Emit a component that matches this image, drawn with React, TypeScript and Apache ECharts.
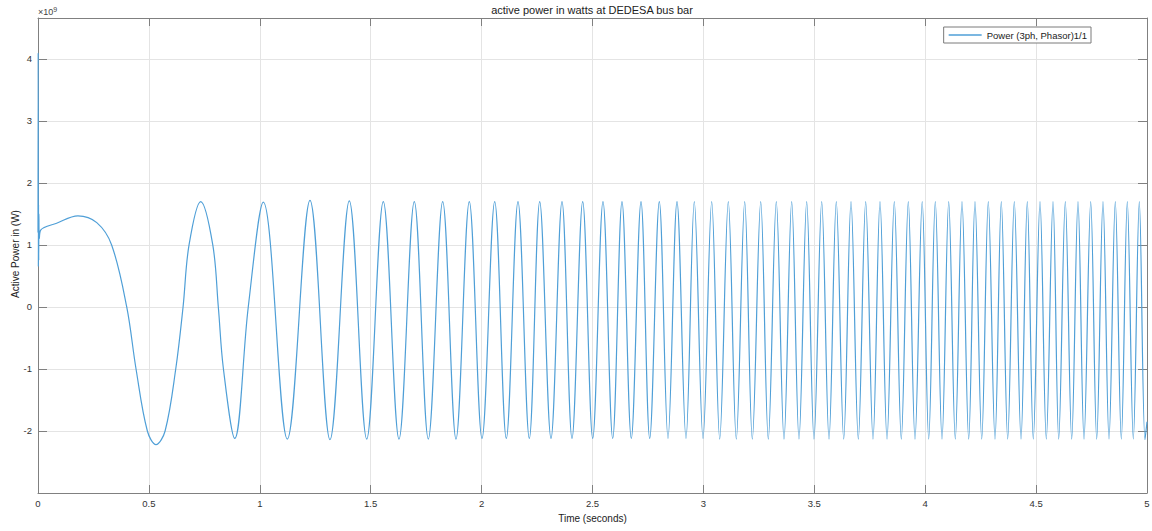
import React, { useEffect, useRef } from "react";
import * as echarts from "echarts";

// Values in units of 1e9 W, time in seconds
const earlyTimes = [0, 0.0008, 0.0016, 0.0024, 0.0032, 0.004, 0.006, 0.012, 0.084, 0.18, 0.265, 0.332, 0.4, 0.442, 0.493, 0.532, 0.573, 0.621, 0.654, 0.681, 0.7335, 0.788, 0.813, 0.836, 0.887, 0.948];
const earlyValues = [1.2, 4.1, 0.65, 1.65, 0.75, 1.5, 1.1, 1.24, 1.35, 1.47, 1.36, 1.0, 0, -1, -2, -2.22, -2, -1, 0, 1, 1.7, 1, 0, -1, -2.12, 0];

const peakTimes = [1.0158, 1.2263, 1.4035, 1.5568, 1.6966, 1.8246, 1.9445, 2.0591, 2.1641, 2.262, 2.3625, 2.4558, 2.5473, 2.633, 2.7187, 2.8012, 2.881, 2.959, 3.0374, 3.1123, 3.1862, 3.2584, 3.3287, 3.3981, 3.4657, 3.5334, 3.5992, 3.6655, 3.7317, 3.7962, 3.8607, 3.9238, 3.9865, 4.0455, 4.106, 4.1659, 4.2245, 4.2845, 4.3431, 4.4017, 4.4603, 4.5176, 4.5762, 4.6317, 4.6889, 4.7462, 4.8016, 4.8571, 4.9112, 4.9653];
const peakValues = [1.69, 1.72, 1.71, 1.7, 1.7, 1.7, 1.7, 1.7, 1.7, 1.7, 1.7, 1.7, 1.7, 1.7, 1.7, 1.7, 1.7, 1.7, 1.7, 1.7, 1.7, 1.7, 1.7, 1.7, 1.7, 1.7, 1.7, 1.7, 1.7, 1.7, 1.7, 1.7, 1.7, 1.7, 1.7, 1.7, 1.7, 1.7, 1.7, 1.7, 1.7, 1.7, 1.7, 1.7, 1.7, 1.7, 1.7, 1.7, 1.7, 1.7];

const troughTimes = [1.124, 1.3165, 1.482, 1.6276, 1.7597, 1.8846, 2.0018, 2.1114, 2.2151, 2.3129, 2.4076, 2.5009, 2.5911, 2.6749, 2.7579, 2.8404, 2.9215, 2.9982, 3.0735, 3.1483, 3.2205, 3.2926, 3.3634, 3.431, 3.4986, 3.5663, 3.6326, 3.6984, 3.7647, 3.8278, 3.8922, 3.954, 4.0158, 4.0758, 4.1357, 4.1961, 4.2548, 4.3147, 4.3719, 4.4319, 4.4874, 4.546, 4.6019, 4.6605, 4.716, 4.7732, 4.8287, 4.8842, 4.9383, 4.991];
const troughValues = [-2.13, -2.14, -2.13, -2.13, -2.13, -2.13, -2.12, -2.12, -2.12, -2.12, -2.12, -2.12, -2.12, -2.12, -2.12, -2.12, -2.12, -2.12, -2.13, -2.13, -2.13, -2.13, -2.13, -2.13, -2.13, -2.13, -2.13, -2.13, -2.13, -2.13, -2.13, -2.13, -2.13, -2.13, -2.13, -2.13, -2.13, -2.13, -2.13, -2.13, -2.13, -2.13, -2.13, -2.13, -2.13, -2.13, -2.13, -2.13, -2.13, -2.14];

const endTimes = [5.0];
const endValues = [-1.85];

const xTickValues = [0, 0.5, 1, 1.5, 2, 2.5, 3, 3.5, 4, 4.5, 5];
const yTickValues = [-3, -2, -1, 0, 1, 2, 3, 4];

const SERIES_NAME = "Power (3ph, Phasor)1/1";
const SCALE = 1e9;

function buildData(): [number, number][] {
  const pts: [number, number][] = [];
  const add = (ts: number[], vs: number[]) => ts.forEach((t, i) => pts.push([t, vs[i] * SCALE]));
  add(earlyTimes, earlyValues);
  add(peakTimes, peakValues);
  add(troughTimes, troughValues);
  add(endTimes, endValues);
  pts.sort((a, b) => a[0] - b[0]);
  return pts;
}

export default function App() {
  const ref = useRef<HTMLDivElement>(null);
  useEffect(() => {
    document.body.style.margin = "0";
    if (!ref.current) return;
    const chart = echarts.init(ref.current, undefined, { renderer: "svg" });
    const font = "Liberation Sans, Arial, Helvetica, sans-serif";
    const axisColor = "#808080";
    const labelColor = "#333333";
    const gridColor = "#e4e4e4";
    const lineColor = "#4f9fd7";
    const xMin = xTickValues[0];
    const xMax = xTickValues[xTickValues.length - 1];
    const yMin = yTickValues[0] * SCALE;
    const yMax = 4.66 * SCALE;
    chart.setOption({
      animation: false,
      backgroundColor: "#ffffff",
      textStyle: { fontFamily: font },
      grid: { left: 38, right: 5, top: 18, bottom: 38, containLabel: false, outerBoundsMode: "none" },
      graphic: [
        {
          type: "text",
          x: 592,
          y: 4,
          style: {
            text: "active power in watts at DEDESA bus bar",
            textAlign: "center",
            fontSize: 11,
            fontFamily: font,
            fill: "#222",
          },
        },
        {
          type: "text",
          x: 38,
          y: 6,
          style: {
            text: "×10{s|9}",
            fontSize: 9,
            fontFamily: font,
            fill: "#444",
            rich: { s: { fontSize: 7, verticalAlign: "top", padding: [0, 0, 5, 0], fill: "#444" } },
          },
        },
        {
          type: "text",
          x: 15,
          y: 254,
          rotation: Math.PI / 2,
          style: {
            text: "Active Power in (W)",
            textAlign: "center",
            textVerticalAlign: "middle",
            fontSize: 10,
            fontFamily: font,
            fill: "#222",
          },
        },
      ],
      legend: {
        show: true,
        data: [{ name: SERIES_NAME, icon: "rect" }],
        right: 61,
        top: 27,
        orient: "horizontal",
        backgroundColor: "#ffffff",
        borderColor: "#7a7a7a",
        borderWidth: 1,
        borderRadius: 0,
        padding: [3, 4, 3, 5],
        itemWidth: 33,
        itemHeight: 1.3,
        itemGap: 4,
        itemStyle: { color: lineColor },
        textStyle: { fontSize: 9.5, color: "#222", fontFamily: font, padding: [0, 0, 0, 0] },
      },
      xAxis: [
        {
          type: "value",
          min: xMin,
          max: xMax,
          interval: 0.5,
          name: "Time (seconds)",
          nameLocation: "middle",
          nameGap: 20,
          nameTextStyle: { fontSize: 10, color: "#222", fontFamily: font },
          axisLine: { show: true, onZero: false, lineStyle: { color: axisColor, width: 1 } },
          axisTick: { show: true, inside: true, length: 8, lineStyle: { color: axisColor } },
          axisLabel: { fontSize: 9.5, color: labelColor, margin: 5, fontFamily: font },
          splitLine: { show: true, lineStyle: { color: gridColor, width: 1 } },
        },
        {
          type: "value",
          position: "top",
          min: xMin,
          max: xMax,
          interval: 0.5,
          axisLine: { show: true, onZero: false, lineStyle: { color: axisColor, width: 1 } },
          axisTick: { show: true, inside: true, length: 8, lineStyle: { color: axisColor } },
          axisLabel: { show: false },
          splitLine: { show: false },
        },
      ],
      yAxis: [
        {
          type: "value",
          min: yMin,
          max: yMax,
          interval: SCALE,
          axisLine: { show: true, onZero: false, lineStyle: { color: axisColor, width: 1 } },
          axisTick: { show: true, inside: true, length: 9, lineStyle: { color: axisColor } },
          axisLabel: {
            fontSize: 9.5,
            color: labelColor,
            margin: 6,
            fontFamily: font,
            showMinLabel: false,
            showMaxLabel: false,
            formatter: (v: number) => String(Math.round(v / SCALE)),
          },
          splitLine: { show: true, lineStyle: { color: gridColor, width: 1 } },
        },
        {
          type: "value",
          position: "right",
          min: yMin,
          max: yMax,
          interval: SCALE,
          axisLine: { show: true, onZero: false, lineStyle: { color: axisColor, width: 1 } },
          axisTick: { show: true, inside: true, length: 9, lineStyle: { color: axisColor } },
          axisLabel: { show: false },
          splitLine: { show: false },
        },
      ],
      series: [
        {
          name: SERIES_NAME,
          type: "line",
          xAxisIndex: 0,
          yAxisIndex: 0,
          data: buildData(),
          symbol: "none",
          showSymbol: false,
          smooth: 0.36,
          lineStyle: { color: lineColor, width: 1.2 },
          itemStyle: { color: lineColor },
          clip: true,
        },
      ],
    });
    return () => chart.dispose();
  }, []);
  return <div ref={ref} style={{ width: 1152, height: 531, position: "absolute", left: 0, top: 0 }} />;
}
